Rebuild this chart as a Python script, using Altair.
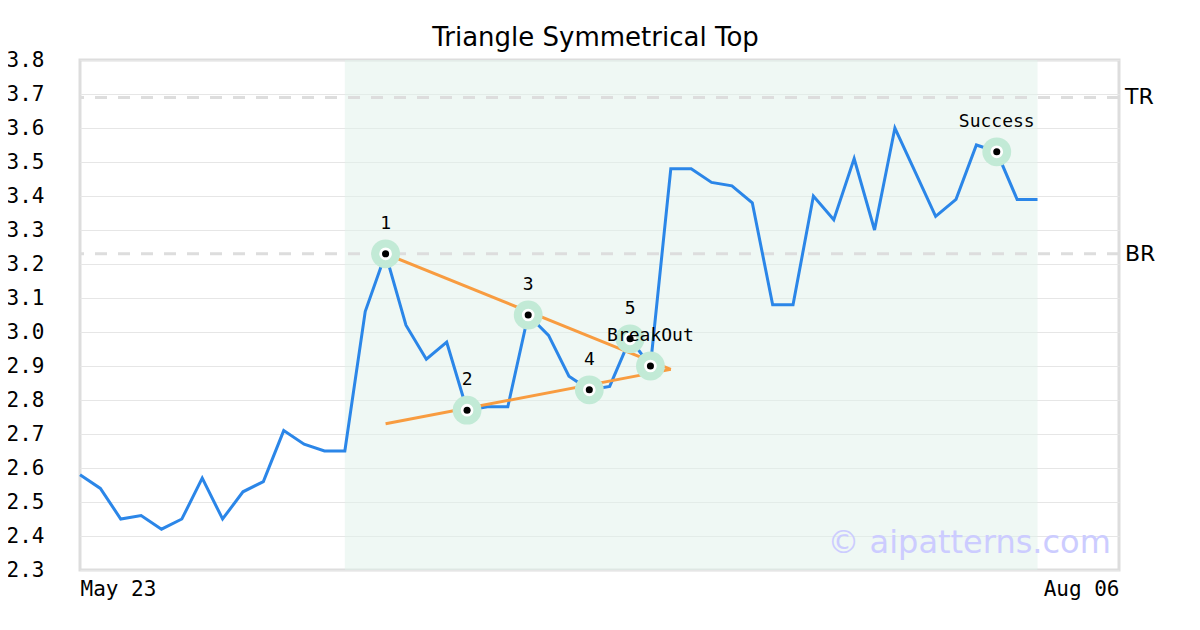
import altair as alt
import pandas as pd

# ---- data ----
idx = list(range(48))
close = [2.58, 2.54, 2.45, 2.46, 2.42, 2.45, 2.57, 2.45, 2.53, 2.56,
         2.71, 2.67, 2.65, 2.65, 3.06, 3.23, 3.02, 2.92, 2.97, 2.77,
         2.78, 2.78, 3.05, 2.99, 2.87, 2.83, 2.84, 2.98, 2.90, 3.48,
         3.48, 3.44, 3.43, 3.38, 3.08, 3.08, 3.40, 3.33, 3.51, 3.30,
         3.60, 3.47, 3.34, 3.39, 3.55, 3.53, 3.39, 3.39]

x_tick_pos = [0, 51]
x_tick_labels = ["May 23", "Aug 06"]
y_ticks = [2.3, 2.4, 2.5, 2.6, 2.7, 2.8, 2.9, 3.0, 3.1, 3.2, 3.3, 3.4, 3.5, 3.6, 3.7, 3.8]

shade_start = [13]
shade_end = [47]

levels = [3.69, 3.23]
level_names = ["TR", "BR"]

trend_x = [15, 29, 15, 29]
trend_y = [3.23, 2.89, 2.73, 2.89]
trend_group = ["upper", "upper", "lower", "lower"]

marker_idx = [15, 19, 22, 25, 27, 28, 45]
marker_labels = ["1", "2", "3", "4", "5", "BreakOut", "Success"]

watermark = ["© aipatterns.com"]
watermark_x = [50.6]
watermark_y = [2.35]

# ---- tables ----
line_df = pd.DataFrame({"i": idx, "v": close})
shade_df = pd.DataFrame({"i": shade_start, "i2": shade_end, "v": [2.3], "v2": [3.8]})
lvl_df = pd.DataFrame({"v": levels, "name": level_names, "i": [51, 51]})
trend_df = pd.DataFrame({"i": trend_x, "v": trend_y, "g": trend_group})
mk_df = pd.DataFrame({"i": marker_idx, "v": [close[k] for k in marker_idx], "t": marker_labels})
wm_df = pd.DataFrame({"t": watermark, "i": watermark_x, "v": watermark_y})

label_expr = " : ".join(
    [f"datum.value == {p} ? '{l}'" for p, l in zip(x_tick_pos, x_tick_labels)]
) + " : ''"

xs = alt.Scale(domain=[0, 51], nice=False, zero=False)
ys = alt.Scale(domain=[2.3, 3.8], nice=False, zero=False)

x_axis = alt.Axis(
    values=x_tick_pos, labelExpr=label_expr, labelFlush=True, grid=False,
    ticks=False, domain=False, labelFont="DejaVu Sans Mono", labelFontSize=21,
    labelColor="#000000", labelPadding=8, title=None)
y_axis = alt.Axis(
    values=y_ticks, format=".1f", grid=True, gridColor="#e6e6e6", gridWidth=1,
    ticks=False, domain=False, labelFont="DejaVu Sans Mono", labelFontSize=21,
    labelColor="#000000", labelPadding=36, title=None)

X = alt.X("i:Q", scale=xs, axis=x_axis)
Y = alt.Y("v:Q", scale=ys, axis=y_axis)

shade = alt.Chart(shade_df).mark_rect(color="#e0f2ea", opacity=0.5).encode(
    x=X, x2="i2:Q", y=Y, y2="v2:Q")

rules = alt.Chart(lvl_df).mark_rule(color="#dddddd", strokeWidth=3, strokeDash=[12, 11]).encode(
    y=Y)

lvl_text = alt.Chart(lvl_df).mark_text(align="left", baseline="middle", dx=6,
                                       font="DejaVu Sans", fontSize=22, color="#000000").encode(
    x=X, y=Y, text="name:N")

line = alt.Chart(line_df).mark_line(color="#2b86e8", strokeWidth=3).encode(x=X, y=Y)

trend = alt.Chart(trend_df).mark_line(color="#f89c40", strokeWidth=3).encode(
    x=X, y=Y, detail="g:N")

halo = alt.Chart(mk_df).mark_circle(color="#c2ead6", opacity=1, size=830).encode(x=X, y=Y)
white = alt.Chart(mk_df).mark_circle(color="#ffffff", opacity=1, size=160).encode(x=X, y=Y)
dot = alt.Chart(mk_df).mark_circle(color="#000000", opacity=1, size=50).encode(x=X, y=Y)
mk_text = alt.Chart(mk_df).mark_text(baseline="middle", dy=-30, font="DejaVu Sans Mono",
                                     fontSize=18, color="#000000").encode(
    x=X, y=Y, text="t:N")

wm = alt.Chart(wm_df).mark_text(align="right", baseline="alphabetic", font="DejaVu Sans",
                                fontSize=32, color="#ccccff").encode(
    x=X, y=Y, text="t:N")

chart = alt.layer(shade, rules, line, trend, halo, white, dot, mk_text, lvl_text, wm).properties(
    width=1039, height=510,
    background="#ffffff",
    title=alt.TitleParams("Triangle Symmetrical Top", font="DejaVu Sans", fontSize=26,
                          fontWeight="normal", color="#000000", anchor="middle", offset=-2, dx=-4),
    autosize=alt.AutoSizeParams(type="none"),
    padding={"left": 72, "top": 52, "right": 60, "bottom": 50},
).configure_view(stroke="#dddddd", strokeWidth=3)

chart.save("out.html", embed_options={"renderer": "svg", "actions": False})
